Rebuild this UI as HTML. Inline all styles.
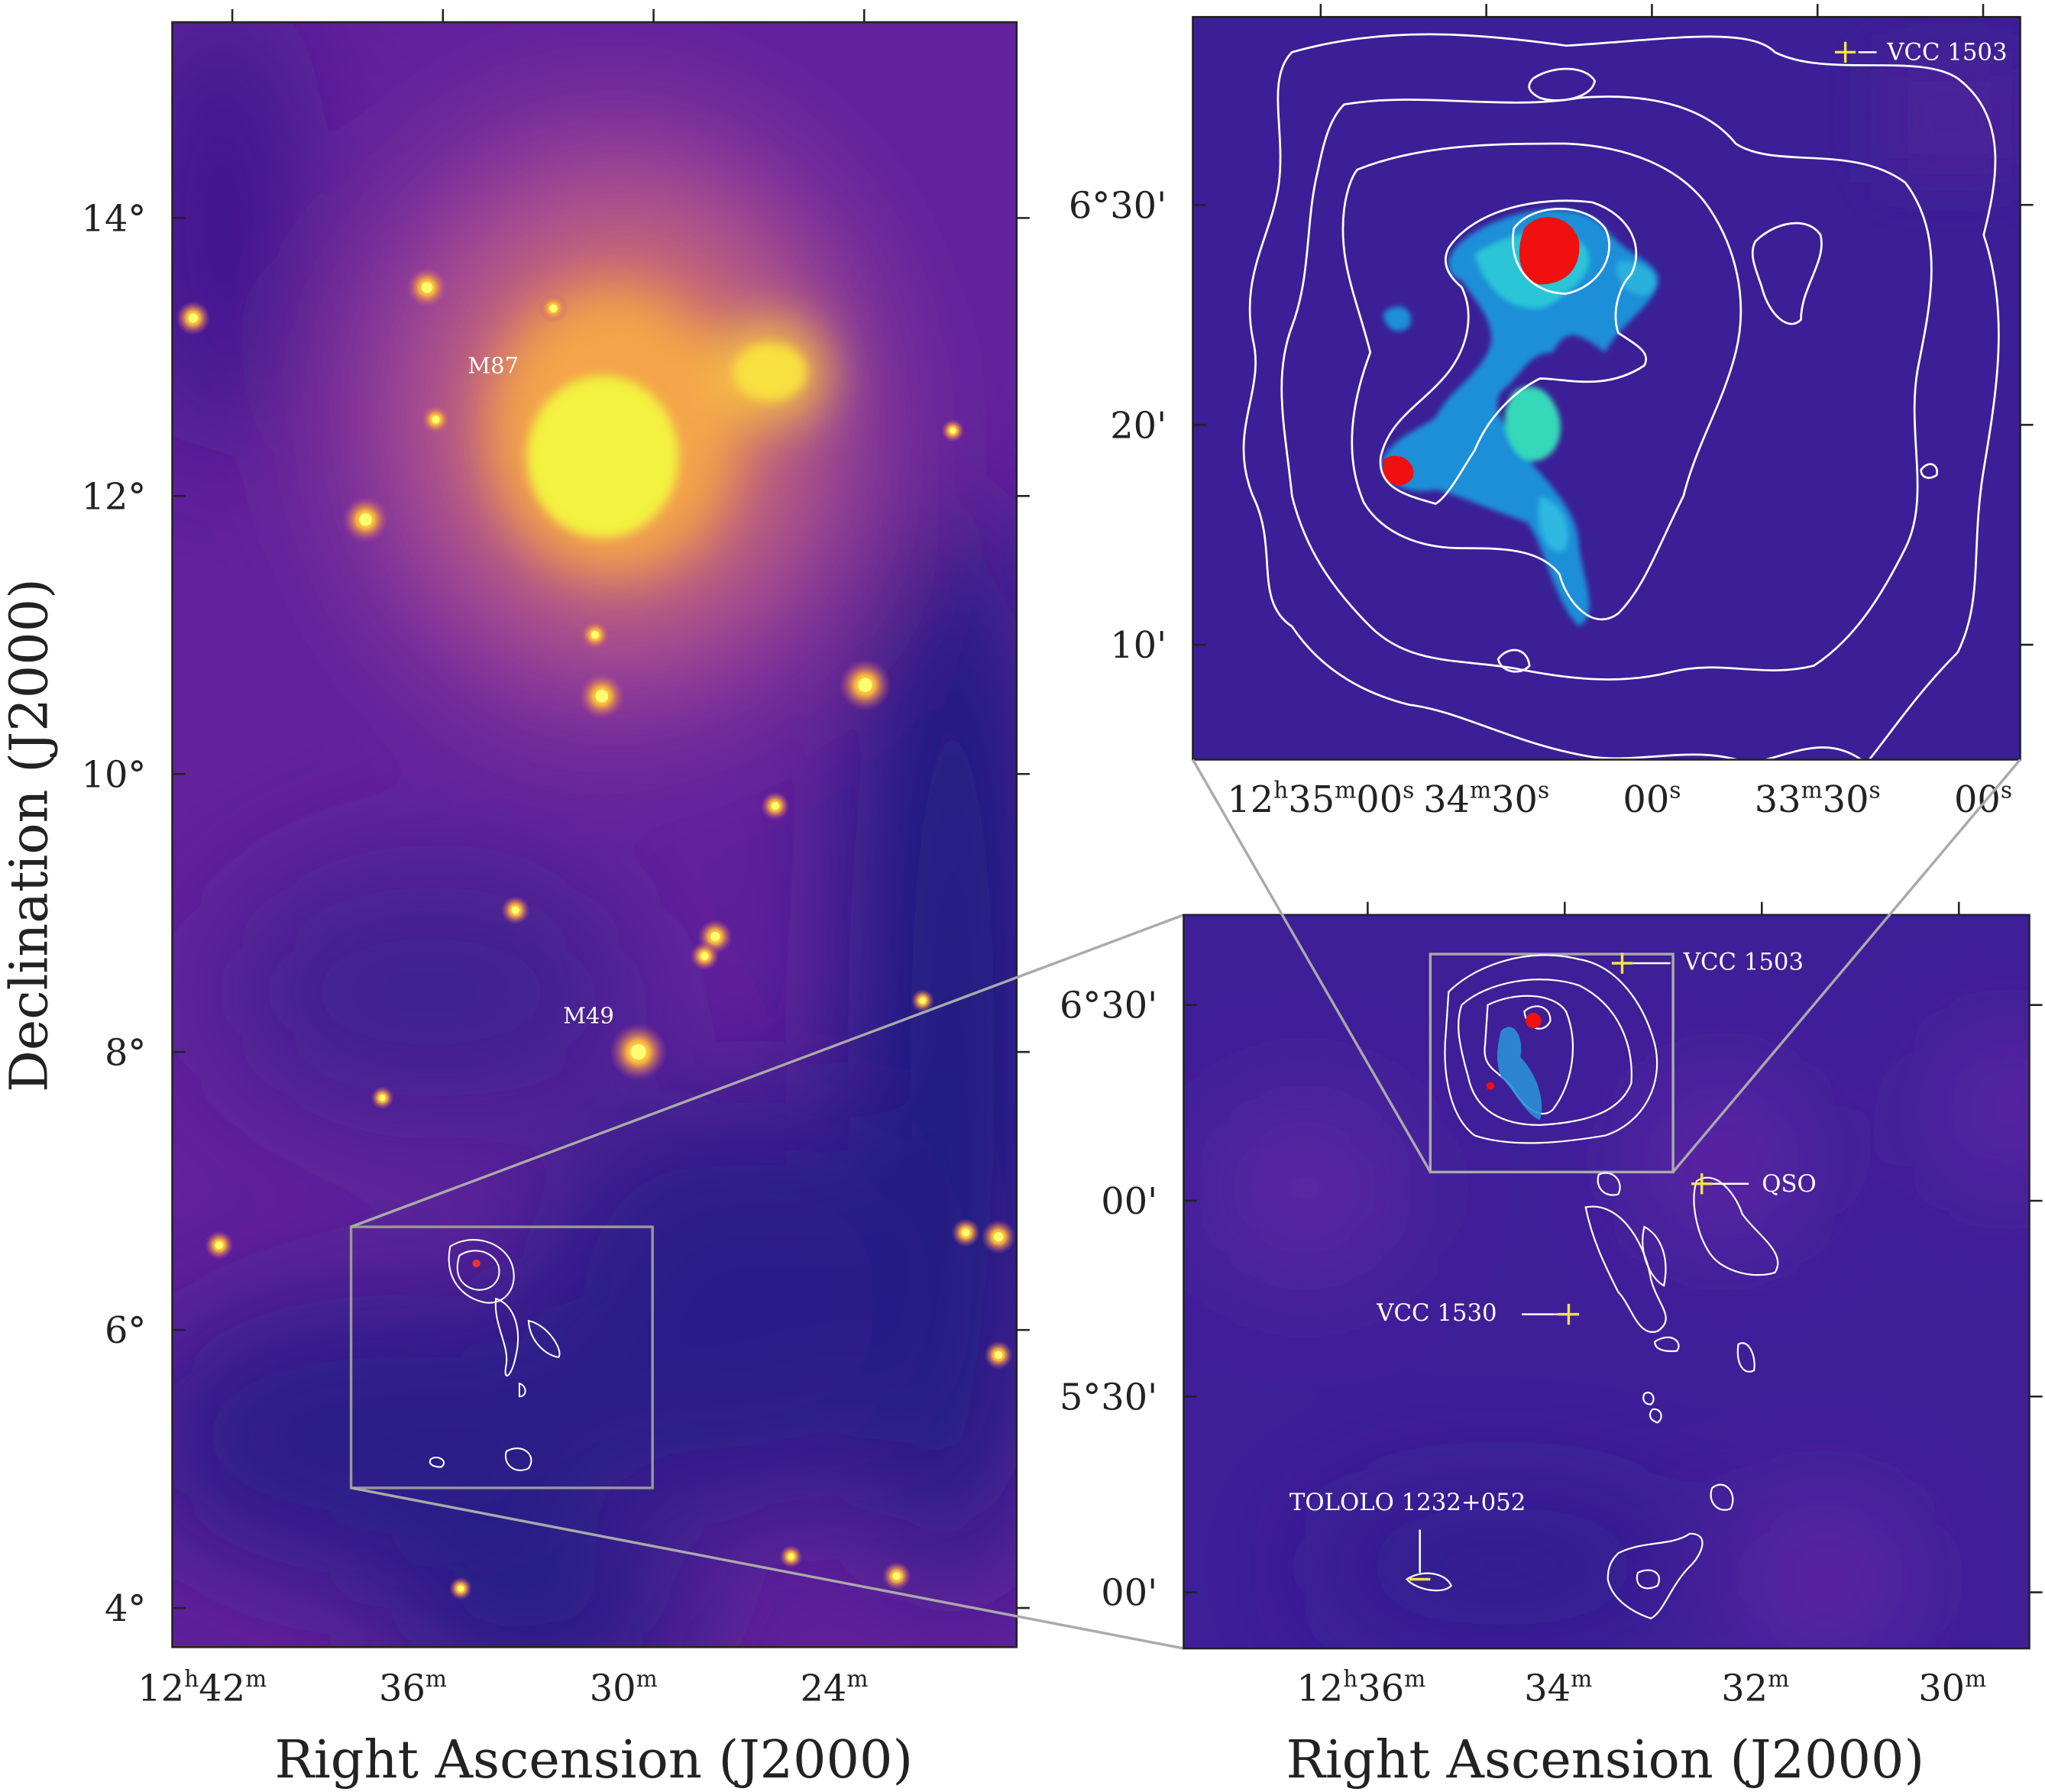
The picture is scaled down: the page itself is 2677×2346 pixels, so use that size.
<!DOCTYPE html>
<html><head><meta charset="utf-8">
<style>
html,body{margin:0;padding:0;background:#fff;}
svg{display:block;}
text{font-family:"DejaVu Serif","Liberation Serif",serif;fill:#222;}
</style></head>
<body>
<svg id="fig" width="2677" height="2346" viewBox="0 0 1567 1373" preserveAspectRatio="none" xmlns="http://www.w3.org/2000/svg">
<defs>
 <filter id="b4" x="-100%" y="-100%" width="300%" height="300%"><feGaussianBlur stdDeviation="4"/></filter>
 <filter id="b20" x="-100%" y="-100%" width="300%" height="300%"><feGaussianBlur stdDeviation="20"/></filter>
 <filter id="b60" filterUnits="userSpaceOnUse" x="0" y="0" width="1567" height="1373"><feGaussianBlur stdDeviation="50"/></filter>
 <filter id="b2" x="-50%" y="-50%" width="200%" height="200%"><feGaussianBlur stdDeviation="2"/></filter>
 <radialGradient id="star"><stop offset="0" stop-color="#ffff80"/><stop offset="0.4" stop-color="#f7b03a"/><stop offset="1" stop-color="#c04a8a" stop-opacity="0"/></radialGradient>
 <clipPath id="cl"><rect x="132" y="17" width="647" height="1245"/></clipPath>
 <clipPath id="ctr"><rect x="914" y="13" width="634" height="569"/></clipPath>
 <clipPath id="cbr"><rect x="907" y="701" width="648" height="562"/></clipPath>
</defs>

<!-- LEFT PANEL -->
<g id="left-panel" clip-path="url(#cl)">
 <rect x="132" y="17" width="647" height="1245" fill="#62229b"/>
 <g filter="url(#b60)">
  <ellipse cx="730" cy="800" rx="80" ry="420" fill="#1a1d80"/>
  <ellipse cx="170" cy="170" rx="50" ry="180" fill="#34198a"/>
  <ellipse cx="300" cy="1100" rx="200" ry="110" fill="#2c1d88"/>
  <ellipse cx="560" cy="1000" rx="160" ry="160" fill="#2c1d88"/>
  <ellipse cx="420" cy="1240" rx="120" ry="60" fill="#241c84"/>
  <ellipse cx="330" cy="760" rx="160" ry="100" fill="#3f2090"/>
  <ellipse cx="470" cy="320" rx="200" ry="230" fill="#a2449a"/>
  <ellipse cx="480" cy="320" rx="130" ry="150" fill="#d27062"/>
 </g>
 <g filter="url(#b20)">
  <ellipse cx="470" cy="330" rx="95" ry="110" fill="#f4a54a"/>
  <ellipse cx="590" cy="285" rx="45" ry="40" fill="#f6bf45"/>
 </g>
 <g filter="url(#b4)">
  <ellipse cx="462" cy="350" rx="58" ry="62" fill="#f3f23f"/>
  <ellipse cx="590" cy="285" rx="28" ry="22" fill="#f8e040"/>
 </g>
 <g id="stars"></g>
 <rect x="269" y="940" width="231" height="200" fill="none" stroke="#999" stroke-width="2"/>
 <g fill="none" stroke="#fff" stroke-width="1.2">
  <path d="M345,955 C360,945 385,950 392,968 C398,985 388,1000 372,998 C355,995 340,980 345,955Z"/>
  <path d="M352,962 C362,955 378,958 382,970 C385,982 375,990 364,988 C352,985 348,975 352,962Z"/>
  <path d="M380,995 C395,1000 400,1020 395,1040 C392,1055 385,1060 388,1045 C390,1030 378,1015 380,995Z"/>
  <path d="M405,1012 C420,1015 432,1035 428,1040 C418,1038 406,1028 405,1012Z"/>
  <path d="M398,1060 C404,1062 404,1070 398,1070Z"/>
  <path d="M388,1112 C400,1105 412,1115 405,1125 C395,1130 385,1122 388,1112Z"/>
  <path d="M330,1118 C336,1114 344,1120 338,1124 C332,1124 328,1122 330,1118Z"/>
 </g>
 <circle cx="365" cy="968" r="3" fill="#e33"/>
</g>
<rect x="132" y="17" width="647" height="1245" fill="none" stroke="#222" stroke-width="1.5"/>
<text x="378" y="286" font-size="17" text-anchor="middle" style="fill:#fff">M87</text>
<text x="451" y="784" font-size="17" text-anchor="middle" style="fill:#fff">M49</text>
<g id="left-axes"></g>
<text x="36" y="640" font-size="40" text-anchor="middle" transform="rotate(-90 36 640)">Declination (J2000)</text>
<text x="455" y="1362" font-size="40" text-anchor="middle">Right Ascension (J2000)</text>

<g stroke="#aaa" stroke-width="2" fill="none">
 <line x1="269" y1="940" x2="907" y2="701"/>
 <line x1="269" y1="1140" x2="907" y2="1263"/>
</g>

<!-- TOP RIGHT PANEL -->
<g id="top-right-panel" clip-path="url(#ctr)">
 <rect x="914" y="13" width="634" height="569" fill="#3b1f96"/>
 <rect x="1440" y="40" width="108" height="100" fill="#4a2199" filter="url(#b20)"/>
 <g filter="url(#b2)">
  <path d="M1120,185 C1150,160 1210,150 1230,175 C1250,200 1275,200 1270,220 C1260,240 1240,250 1230,270 C1210,255 1200,250 1190,270 C1170,270 1165,290 1150,300 C1140,320 1160,330 1170,350 C1185,370 1210,390 1210,420 C1215,450 1225,470 1210,480 C1190,460 1185,420 1170,400 C1140,390 1120,380 1100,375 C1080,380 1055,370 1060,350 C1070,335 1085,330 1100,320 C1110,300 1130,290 1140,270 C1150,250 1130,230 1120,215 C1105,210 1108,195 1120,185Z" fill="#1f8fd8"/>
  <path d="M1130,195 C1160,175 1200,170 1215,190 C1225,210 1200,225 1185,235 C1160,240 1140,225 1130,195Z" fill="#29c6d8"/>
  <path d="M1160,300 C1175,290 1190,300 1195,320 C1200,345 1180,360 1165,350 C1150,335 1150,315 1160,300Z" fill="#35d8b8"/>
  <path d="M1180,380 C1195,385 1205,400 1200,420 C1190,430 1175,410 1180,380Z" fill="#2fb8e0"/>
  <path d="M1060,240 C1070,230 1085,235 1080,250 C1072,258 1060,252 1060,240Z" fill="#1f8fd8"/>
  <path d="M1240,200 C1260,200 1275,210 1265,225 C1250,230 1235,215 1240,200Z" fill="#2bb0dc"/>
 </g>
 <path d="M1168,175 C1180,160 1205,165 1210,185 C1212,205 1200,218 1180,218 C1165,215 1160,195 1168,175Z" fill="#f01010"/>
 <path d="M1060,352 C1070,345 1085,352 1083,365 C1078,375 1065,373 1060,365Z" fill="#f01010"/>
 <g fill="none" stroke="#fff" stroke-width="1.6">
  <path d="M990,40 C1060,20 1130,25 1200,35 C1280,30 1340,20 1360,40 C1400,60 1470,40 1500,60 C1540,90 1530,140 1520,180 C1540,240 1530,300 1520,360 C1510,420 1520,460 1500,500 C1470,530 1450,560 1430,585 C1400,560 1370,580 1340,585 C1300,570 1260,585 1220,580 C1160,570 1120,545 1080,540 C1040,530 1010,510 990,480 C960,460 980,420 960,380 C940,330 970,300 960,260 C950,210 975,180 980,140 C985,100 970,60 990,40Z"/>
  <path d="M1030,80 C1090,70 1150,85 1210,75 C1270,70 1310,85 1330,110 C1360,130 1420,110 1460,140 C1490,180 1480,230 1470,280 C1460,330 1480,380 1460,420 C1440,460 1420,490 1390,510 C1350,520 1320,505 1280,515 C1240,525 1200,520 1160,512 C1120,505 1080,510 1050,480 C1020,450 1000,420 990,380 C985,330 975,290 990,250 C1005,210 1000,170 1010,130 C1015,105 1020,90 1030,80Z"/>
  <path d="M1040,130 C1090,110 1150,110 1200,110 C1250,112 1290,130 1310,160 C1330,190 1340,230 1330,270 C1320,310 1300,340 1290,380 C1270,420 1260,450 1240,470 C1220,485 1200,460 1195,440 C1180,420 1150,420 1120,420 C1090,420 1060,410 1045,385 C1030,350 1035,310 1050,270 C1040,230 1025,200 1030,160 C1032,145 1036,135 1040,130Z"/>
  <path d="M1110,190 C1130,160 1180,150 1220,155 C1250,165 1260,190 1250,210 C1240,220 1235,240 1240,255 C1255,265 1265,270 1260,280 C1230,300 1200,290 1180,290 C1160,300 1140,320 1130,345 C1120,360 1110,380 1100,386 C1080,380 1055,375 1058,350 C1065,320 1090,310 1110,285 C1125,265 1130,240 1120,220 C1108,210 1105,200 1110,190Z"/>
  <path d="M1160,175 C1175,155 1215,155 1230,175 C1240,195 1225,220 1200,225 C1175,225 1155,205 1160,175Z"/>
  <path d="M1175,60 C1190,50 1215,50 1222,62 C1220,75 1195,80 1180,75 C1170,70 1170,65 1175,60Z"/>
  <path d="M1345,185 C1360,170 1385,165 1395,180 C1400,200 1380,220 1380,245 C1370,255 1355,240 1350,220 C1345,205 1340,195 1345,185Z"/>
  <path d="M1148,505 C1155,495 1170,495 1172,510 C1165,518 1150,515 1148,505Z"/>
  <path d="M1472,360 C1478,352 1486,356 1484,364 C1478,368 1472,366 1472,360Z"/>
 </g>
</g>
<rect x="914" y="13" width="634" height="569" fill="none" stroke="#222" stroke-width="1.5"/>
<g stroke="#f5e14a" stroke-width="2"><line x1="1406" y1="40" x2="1422" y2="40"/><line x1="1414" y1="32" x2="1414" y2="48"/></g>
<line x1="1424" y1="40" x2="1438" y2="40" stroke="#fff" stroke-width="1.5"/>
<text x="1446" y="46" font-size="18" style="fill:#fff">VCC 1503</text>
<g id="tr-axes"></g>

<!-- BOTTOM RIGHT PANEL -->
<g id="bottom-right-panel" clip-path="url(#cbr)">
 <rect x="907" y="701" width="648" height="562" fill="#3e1f98"/>
 <g filter="url(#b60)">
  <ellipse cx="1000" cy="910" rx="70" ry="60" fill="#6a2aa8"/>
  <ellipse cx="1320" cy="890" rx="50" ry="50" fill="#7a2ab0"/>
  <ellipse cx="1400" cy="1210" rx="50" ry="50" fill="#7a2ab0"/>
  <ellipse cx="1540" cy="850" rx="40" ry="50" fill="#7a2ab0"/>
  <ellipse cx="1150" cy="1200" rx="150" ry="50" fill="#2e1d8e"/>
 </g>
 <rect x="1096" y="731" width="186" height="167" fill="none" stroke="#aaa" stroke-width="2"/>
 <g fill="none" stroke="#fff" stroke-width="1.3">
  <path d="M1110,760 C1130,740 1170,725 1210,735 C1240,740 1260,770 1268,800 C1275,830 1260,860 1230,870 C1200,875 1160,880 1130,870 C1110,855 1105,820 1108,790Z"/>
  <path d="M1120,770 C1140,752 1180,745 1210,755 C1240,770 1252,800 1250,830 C1240,855 1210,860 1180,862 C1150,862 1130,850 1125,825 C1118,800 1115,785 1120,770Z"/>
  <path d="M1140,770 C1160,760 1190,760 1200,775 C1210,800 1205,830 1190,850 C1180,860 1165,845 1160,835 C1150,820 1135,820 1138,800Z"/>
  <path d="M1168,775 C1175,768 1188,770 1188,782 C1184,792 1170,790 1168,775Z"/>
  <path d="M1225,900 C1235,895 1245,905 1240,915 C1230,918 1222,910 1225,900Z"/>
  <path d="M1215,925 C1240,920 1260,950 1265,980 C1270,1000 1285,1010 1270,1020 C1255,1025 1250,1000 1240,990 C1230,970 1220,950 1215,925Z"/>
  <path d="M1260,940 C1270,945 1280,960 1275,985 C1265,980 1255,960 1260,940Z"/>
  <path d="M1300,905 C1315,895 1330,915 1335,930 C1345,945 1370,960 1360,975 C1345,980 1320,975 1310,960 C1300,945 1295,920 1300,905Z"/>
  <path d="M1268,1028 C1280,1020 1290,1028 1285,1035 C1275,1036 1268,1034 1268,1028Z"/>
  <path d="M1332,1030 C1340,1025 1346,1040 1344,1050 C1336,1054 1330,1045 1332,1030Z"/>
  <path d="M1260,1068 C1265,1064 1270,1072 1265,1076 C1260,1076 1258,1072 1260,1068Z"/>
  <path d="M1266,1080 C1272,1078 1276,1086 1270,1090 C1264,1088 1263,1084 1266,1080Z"/>
  <path d="M1312,1140 C1322,1132 1332,1145 1326,1156 C1316,1160 1308,1150 1312,1140Z"/>
  <path d="M1240,1190 C1260,1180 1280,1185 1295,1175 C1310,1175 1305,1190 1295,1200 C1280,1215 1275,1235 1265,1240 C1250,1235 1235,1225 1232,1210 C1232,1200 1235,1195 1240,1190Z"/>
  <path d="M1255,1205 C1265,1200 1275,1205 1270,1215 C1260,1220 1252,1215 1255,1205Z"/>
  <path d="M1078,1210 C1090,1202 1108,1205 1112,1215 C1105,1222 1085,1218 1078,1210Z"/>
 </g>
 <g>
  <circle cx="1175" cy="782" r="6" fill="#f01010"/>
  <circle cx="1142" cy="832" r="3" fill="#f01010"/>
  <path d="M1150,790 C1160,780 1168,795 1165,810 C1175,820 1185,840 1180,858 C1170,855 1160,835 1150,825 C1145,810 1148,800 1150,790Z" fill="#2a8fd6" opacity="0.9"/>
 </g>
</g>
<rect x="907" y="701" width="648" height="562" fill="none" stroke="#222" stroke-width="1.5"/>
<g stroke="#aaa" stroke-width="2" fill="none">
 <line x1="914" y1="582" x2="1096" y2="898"/>
 <line x1="1548" y1="582" x2="1282" y2="898"/>
</g>
<g stroke="#f5e14a" stroke-width="2">
 <line x1="1235" y1="738" x2="1251" y2="738"/><line x1="1243" y1="730" x2="1243" y2="746"/>
 <line x1="1296" y1="907" x2="1312" y2="907"/><line x1="1304" y1="899" x2="1304" y2="915"/>
 <line x1="1194" y1="1007" x2="1210" y2="1007"/><line x1="1202" y1="999" x2="1202" y2="1015"/>
 <line x1="1080" y1="1210" x2="1096" y2="1210"/>
</g>
<g stroke="#fff" stroke-width="1.5">
 <line x1="1251" y1="738" x2="1280" y2="738"/>
 <line x1="1312" y1="907" x2="1340" y2="907"/>
 <line x1="1166" y1="1007" x2="1194" y2="1007"/>
 <line x1="1088" y1="1172" x2="1088" y2="1205"/>
</g>
<g font-size="18" style="fill:#fff">
 <text x="1290" y="743" style="fill:#fff">VCC 1503</text>
 <text x="1350" y="913" style="fill:#fff">QSO</text>
 <text x="1055" y="1012" style="fill:#fff">VCC 1530</text>
 <text x="988" y="1157" style="fill:#fff">TOLOLO 1232+052</text>
</g>
<g id="br-axes"></g>
<text x="1230" y="1362" font-size="40" text-anchor="middle">Right Ascension (J2000)</text>
</svg>

<script>
// ---- Left panel data ----
const leftDecTicks = [14, 12, 10, 8, 6, 4];
const leftRaTicks = [42, 36, 30, 24];
const leftRaLabels = ["12h42m", "36m", "30m", "24m"];
const starRa  = [35.6, 42.26, 37.35, 35.35, 30.62, 23.12, 29.58, 33.08, 27.39, 27.69, 19.32, 20.25, 41.52, 19.32, 32.0, 25.68, 22.22, 34.64, 25.23, 20.62, 30.81, 21.48, 36.87];
const starDec = [13.50, 13.28, 11.83, 12.55, 10.56, 10.64, 8.0, 9.02, 8.83, 8.69, 6.67, 6.70, 6.61, 5.82, 13.35, 9.77, 4.23, 4.14, 4.37, 12.47, 11.0, 8.37, 7.67];
const starMag = [7, 6, 8, 5, 8, 9, 10, 5, 6, 5, 6, 5, 5, 5, 5, 5, 5, 4, 4, 4, 5, 4, 4];
// ---- Top right ----
const trDecTicks = [30, 20, 10];
const trDecLabels = ["6°30'", "20'", "10'"];
const trRaTicks = [0, 30, 60, 90, 120];
const trRaLabels = ["12h35m00s", "34m30s", "00s", "33m30s", "00s"];
// ---- Bottom right ----
const brDecTicks = [6.5, 6.0, 5.5, 5.0];
const brDecLabels = ["6°30'", "00'", "5°30'", "00'"];
const brRaTicks = [36, 34, 32, 30];
const brRaLabels = ["12h36m", "34m", "32m", "30m"];

const NS = "http://www.w3.org/2000/svg";
function mk(tag, attrs, parent){const e=document.createElementNS(NS,tag);for(const k in attrs)e.setAttribute(k,attrs[k]);parent.appendChild(e);return e;}

const lx = ra => 155 + (42 - ra) * 26.9;
const ly = dec => 167 + (14 - dec) * 106.5;
const trx = s => 1012 + s * 4.23;
const trY = m => 157 + (30 - m) * 16.85;
const brx = ra => 1043 + (36 - ra) * 75.5;
const bry = d => 770 + (6.5 - d) * 300;

function richLabel(g, x, y, lab, size, anchor){
  const t = mk('text', {x:x, y:y, 'font-size':size, 'text-anchor':anchor}, g);
  const parts = lab.split(/([hms])/).filter(p=>p!=="");
  parts.forEach(p=>{
    const ts = document.createElementNS(NS,'tspan');
    if(/^[hms]$/.test(p)){ts.setAttribute('font-size', size*0.62); ts.setAttribute('dy', -size*0.38);}
    else {ts.setAttribute('dy', t.childNodes.length ? size*0.38 : 0);}
    ts.textContent = p; t.appendChild(ts);
  });
  return t;
}

const sg = document.getElementById('stars');
starRa.forEach((ra,i)=>{
  const r = starMag[i];
  const halo = mk('circle',{cx:lx(ra),cy:ly(starDec[i]),r:r*2.2,fill:'url(#star)'},sg);
  
  
  const c = mk('circle',{cx:lx(ra),cy:ly(starDec[i]),r:r*0.6,fill:'#ffff70'},sg);
  
  
});

const la = document.getElementById('left-axes');
leftDecTicks.forEach(d=>{
  const y = ly(d);
  mk('line',{x1:132,y1:y,x2:142,y2:y,stroke:'#222','stroke-width':1.5},la);
  mk('line',{x1:779,y1:y,x2:789,y2:y,stroke:'#222','stroke-width':1.5},la);
  const t = mk('text',{x:112,y:y+10,'font-size':28,'text-anchor':'end'},la);
  t.textContent = d + "°";
  
  
});
leftRaTicks.forEach((ra,i)=>{
  const x = lx(ra);
  mk('line',{x1:x+23,y1:17,x2:x+23,y2:7,stroke:'#222','stroke-width':1.5},la);
  const t = richLabel(la, x, 1303, leftRaLabels[i], 28, 'middle');
  
  
});

const ta = document.getElementById('tr-axes');
trDecTicks.forEach((m,i)=>{
  const y = trY(m);
  mk('line',{x1:914,y1:y,x2:924,y2:y,stroke:'#222','stroke-width':1.5},ta);
  mk('line',{x1:1548,y1:y,x2:1558,y2:y,stroke:'#222','stroke-width':1.5},ta);
  const t = mk('text',{x:894,y:y+10,'font-size':28,'text-anchor':'end'},ta);
  t.textContent = trDecLabels[i];
  
  
});
trRaTicks.forEach((s,i)=>{
  const x = trx(s);
  mk('line',{x1:x,y1:13,x2:x,y2:3,stroke:'#222','stroke-width':1.5},ta);
  const t = richLabel(ta, x, 622, trRaLabels[i], 28, 'middle');
  
  
});

const ba = document.getElementById('br-axes');
brDecTicks.forEach((d,i)=>{
  const y = bry(d);
  mk('line',{x1:907,y1:y,x2:917,y2:y,stroke:'#222','stroke-width':1.5},ba);
  mk('line',{x1:1555,y1:y,x2:1565,y2:y,stroke:'#222','stroke-width':1.5},ba);
  const t = mk('text',{x:887,y:y+10,'font-size':28,'text-anchor':'end'},ba);
  t.textContent = brDecLabels[i];
  
  
});
brRaTicks.forEach((ra,i)=>{
  const x = brx(ra);
  mk('line',{x1:x+5,y1:701,x2:x+5,y2:691,stroke:'#222','stroke-width':1.5},ba);
  const t = richLabel(ba, x, 1303, brRaLabels[i], 28, 'middle');
  
  
});
</script>
</body></html>
